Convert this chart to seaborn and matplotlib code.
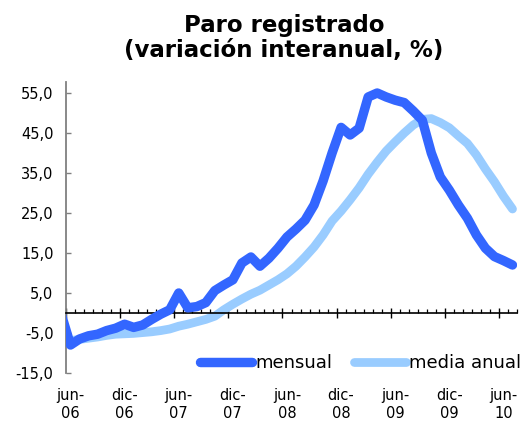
import numpy as np
import matplotlib
matplotlib.use("Agg")
import matplotlib.pyplot as plt
import seaborn as sns

# monthly series, may-06 .. jul-10 (may-06 sits left of the axis and is clipped)
mes_abbr = ["ene", "feb", "mar", "abr", "may", "jun",
            "jul", "ago", "sep", "oct", "nov", "dic"]
months = [f"{mes_abbr[(4 + i) % 12]}-{6 + (4 + i) // 12:02d}" for i in range(51)]

mensual = [-0.5,
           -8.0, -6.5, -5.7, -5.3, -4.4, -3.8, -2.8, -3.6, -3.0, -1.6,
           -0.3, 0.8, 5.0, 1.3, 1.6, 2.6, 5.6, 7.0, 8.3, 12.5,
           14.0, 11.7, 13.7, 16.2, 19.0, 21.0, 23.2, 27.0, 33.0, 40.0,
           46.4, 44.5, 46.2, 54.0, 55.0, 54.0, 53.2, 52.6, 50.5, 48.2,
           40.0, 34.0, 30.7, 27.0, 23.7, 19.5, 16.2, 14.1, 13.1, 12.0]

media_anual = [-7.1,
               -6.9, -6.6, -6.3, -6.0, -5.6, -5.3, -5.2, -5.1, -4.9, -4.7,
               -4.4, -4.0, -3.3, -2.8, -2.2, -1.6, -0.8, 0.8, 2.2, 3.5,
               4.7, 5.7, 7.0, 8.3, 9.8, 11.7, 14.0, 16.5, 19.5, 23.0,
               25.5, 28.3, 31.3, 34.7, 37.7, 40.5, 42.8, 45.0, 47.0, 48.4,
               48.6, 47.6, 46.3, 44.3, 42.4, 39.5, 36.0, 32.8, 29.2, 26.0]

tick_labels = ["jun-\n06", "dic-\n06", "jun-\n07", "dic-\n07", "jun-\n08",
               "dic-\n08", "jun-\n09", "dic-\n09", "jun-\n10"]
y_ticks = [-15, -5, 5, 15, 25, 35, 45, 55]
y_labels = ["-15,0", "-5,0", "5,0", "15,0", "25,0", "35,0", "45,0", "55,0"]

# category positions: each month centred between two ticks (jun-06 -> 0.5)
x = np.arange(len(months)) - 0.5

sns.set_style("white")
plt.rcParams["font.family"] = ["DejaVu Sans"]
plt.rcParams["text.color"] = "black"

fig = plt.figure(figsize=(5.26, 4.24), dpi=100)
ax = fig.add_axes([66 / 526, 1 - 373 / 424, 451 / 526, 291 / 424])

sns.lineplot(x=x, y=mensual, ax=ax, color="#3366ff", linewidth=6.8,
             label="mensual", solid_capstyle="round", solid_joinstyle="round")
sns.lineplot(x=x, y=media_anual, ax=ax, color="#99ccff", linewidth=6.3,
             label="media anual", solid_capstyle="round", solid_joinstyle="round")
# mensual on top, like the reference
ax.lines[0].set_zorder(3)

ax.set_xlim(0, 50)
ax.set_ylim(-15, 57.75)

for s in ["top", "right"]:
    ax.spines[s].set_visible(False)
ax.spines["left"].set_color("#808080")
ax.spines["left"].set_linewidth(1.3)
ax.spines["bottom"].set_position(("data", 0))
ax.spines["bottom"].set_color("black")
ax.spines["bottom"].set_linewidth(1.2)

ax.set_yticks(y_ticks)
ax.set_yticklabels(y_labels)
ax.tick_params(axis="y", left=True, direction="in", length=3.5, width=1,
               color="#808080", pad=9, labelsize=10.5, labelcolor="black")

ax.set_xticks(np.arange(0, 51, 6))
ax.set_xticks(np.arange(0, 51), minor=True)
ax.tick_params(axis="x", which="major", bottom=True, direction="inout",
               length=7, width=1, color="black", labelbottom=False)
ax.tick_params(axis="x", which="minor", bottom=True, direction="in",
               length=2.8, width=0.9, color="black")

sec = ax.secondary_xaxis("bottom")
sec.set_xticks(np.arange(0, 49, 6) + 0.5, tick_labels)
sec.tick_params(length=0, pad=11, labelsize=10.5, labelcolor="black")
sec.spines["bottom"].set_visible(False)

leg = ax.legend(loc="center left", bbox_to_anchor=((200 - 66) / 451, 10 / 291),
                ncol=2, frameon=False, fontsize=13, handlelength=2.9,
                handletextpad=0.15, columnspacing=1.2, borderpad=0,
                borderaxespad=0)
for h in leg.get_lines():
    h.set_solid_capstyle("round")
for t in leg.get_texts():
    t.set_color("black")

fig.text(284 / 526, 1 - 38 / 424, "Paro registrado\n(variación interanual, %)",
         ha="center", va="center", fontsize=16.5, fontweight="bold",
         linespacing=1.15, color="black")

fig.savefig("out.png", dpi=100, facecolor="white")
